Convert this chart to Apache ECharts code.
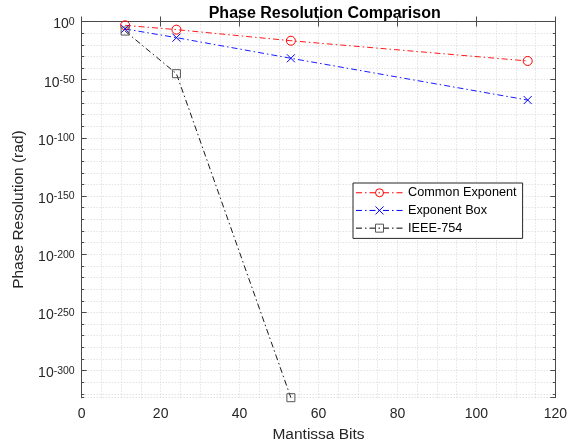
<!DOCTYPE html>
<html>
<head>
<meta charset="utf-8">
<script src="https://cdn.jsdelivr.net/npm/echarts@6/dist/echarts.min.js"></script>
<style>
html,body{margin:0;padding:0;background:#fff;}
#chart{width:570px;height:448px;}
</style>
</head>
<body>
<div id="chart"></div>
<script>
// ---- data ----
const mantissaBits = [11, 24, 53, 113];
const commonExponent = [5.0e-4, 1.0e-7, 3.0e-17, 1.2e-34];
const exponentBox = [4.0e-7, 1.3e-14, 2.5e-32, 3.0e-68];
const ieeeBits = [11, 24, 53];
const ieee754 = [6.0e-9, 1.4e-45, 4.9e-324];
const xTicks = [0, 20, 40, 60, 80, 100, 120];
const yTickExponents = [0, -50, -100, -150, -200, -250, -300];
const seriesNames = ['Common Exponent', 'Exponent Box', 'IEEE-754'];

// plotted as decades below 1 (axis inverted so 10^0 is on top)
const dec = v => -Math.log10(v);
const pairs = (xs, ys) => xs.map((x, i) => [x, dec(ys[i])]);
const yBottom = Math.max(...[...commonExponent, ...exponentBox, ...ieee754].map(dec));

const AX = '#4a4a4a';
const GRID = '#d4d4d4';
const FONT = '"Liberation Sans", Arial, Helvetica, sans-serif';
const dashDot = [6, 3, 1.5, 3];

function yLabel(v) {
  const e = yTickExponents.find(t => Math.abs(-t - v) < 1e-6);
  if (e === undefined) return '';
  return '{b|10}{s|' + e + '}';
}

const baseY = {
  type: 'value', inverse: true, min: 0, max: yBottom,
  axisLine: { show: false }, splitLine: { show: false },
  axisLabel: { show: false }, axisTick: { show: false }
};

const option = {
  backgroundColor: '#ffffff',
  animation: false,
  textStyle: { fontFamily: FONT },
  title: {
    text: 'Phase Resolution Comparison',
    left: 319.7, top: 1, textAlign: 'center',
    textStyle: { fontFamily: FONT, fontSize: 16, fontWeight: 'bold', color: '#000' }
  },
  grid: { left: 81.7, right: 12.3, top: 21.5, bottom: 50.3, containLabel: false },
  legend: {
    orient: 'vertical', left: 353, top: 183,
    data: seriesNames,
    itemWidth: 47, itemHeight: 10, itemGap: 3.2,
    padding: [2.5, 6, 3, 2.5],
    backgroundColor: '#fff', borderColor: '#262626', borderWidth: 1,
    lineStyle: { width: 1 },
    itemStyle: { borderWidth: 1 },
    textStyle: { fontFamily: FONT, fontSize: 12.7, color: '#000', lineHeight: 14.5 }
  },
  xAxis: [
    {
      type: 'value', position: 'bottom', min: 0, max: 120, interval: 20,
      name: 'Mantissa Bits', nameLocation: 'middle', nameGap: 29,
      nameTextStyle: { fontFamily: FONT, fontSize: 15.5, color: '#262626' },
      axisLine: { show: true, lineStyle: { color: AX, width: 1 } },
      axisTick: { show: true, inside: true, length: 5, lineStyle: { color: AX } },
      axisLabel: { show: true, margin: 9, fontFamily: FONT, fontSize: 14, color: '#262626',
        formatter: v => (xTicks.includes(v) ? String(v) : '') },
      splitLine: { show: true, lineStyle: { color: GRID, type: [1, 2], width: 1 } },
      minorTick: { show: false, splitNumber: 4 },
      minorSplitLine: { show: true, lineStyle: { color: GRID, type: [1, 2], width: 1 } }
    },
    {
      type: 'value', position: 'top', min: 0, max: 120, interval: 20,
      axisLine: { show: true, lineStyle: { color: AX, width: 1 } },
      axisTick: { show: true, inside: true, length: 5, lineStyle: { color: AX } },
      axisLabel: { show: false }, splitLine: { show: false }
    }
  ],
  yAxis: [
    Object.assign({}, baseY, {
      position: 'left', interval: 50,
      name: 'Phase Resolution (rad)', nameLocation: 'middle', nameGap: 53,
      nameTextStyle: { fontFamily: FONT, fontSize: 15.5, color: '#262626' },
      axisLine: { show: true, lineStyle: { color: AX, width: 1 } },
      axisTick: { show: true, inside: true, length: 5, lineStyle: { color: AX } },
      axisLabel: {
        show: true, margin: 7, showMaxLabel: false, formatter: yLabel,
        fontFamily: FONT, fontSize: 14, color: '#262626',
        rich: {
          b: { fontFamily: FONT, fontSize: 14, lineHeight: 14, color: '#262626', padding: [6, 0, 0, 0] },
          s: { fontFamily: FONT, fontSize: 10.5, lineHeight: 11, color: '#262626', verticalAlign: 'top', padding: [2, 0, 0, 0] }
        }
      }
    }),
    Object.assign({}, baseY, {
      position: 'left', interval: 10,
      axisTick: { show: true, inside: true, length: 2.5, lineStyle: { color: AX } },
      splitLine: { show: true, lineStyle: { color: GRID, type: [1, 2], width: 1 } }
    }),
    Object.assign({}, baseY, {
      position: 'right', interval: 50,
      axisLine: { show: true, lineStyle: { color: AX, width: 1 } },
      axisTick: { show: true, inside: true, length: 5, lineStyle: { color: AX } }
    }),
    Object.assign({}, baseY, {
      position: 'right', interval: 10,
      axisTick: { show: true, inside: true, length: 2.5, lineStyle: { color: AX } }
    })
  ],
  series: [
    {
      name: seriesNames[0], type: 'line', xAxisIndex: 0, yAxisIndex: 0,
      data: pairs(mantissaBits, commonExponent), clip: false,
      symbol: 'circle', symbolSize: 9,
      lineStyle: { color: '#ff0000', width: 0.9, type: dashDot },
      itemStyle: { color: 'rgba(255,255,255,0)', borderColor: '#ff0000', borderWidth: 1 },
      emphasis: { disabled: true }
    },
    {
      name: seriesNames[1], type: 'line', xAxisIndex: 0, yAxisIndex: 0,
      data: pairs(mantissaBits, exponentBox), clip: false,
      symbol: 'path://M0,0L10,10M10,0L0,10', symbolSize: 8,
      lineStyle: { color: '#0000ff', width: 0.9, type: dashDot },
      itemStyle: { color: 'rgba(0,0,255,0)', borderColor: '#0000ff', borderWidth: 1 },
      emphasis: { disabled: true }
    },
    {
      name: seriesNames[2], type: 'line', xAxisIndex: 0, yAxisIndex: 0,
      data: pairs(ieeeBits, ieee754), clip: false,
      symbol: 'rect', symbolSize: 8,
      lineStyle: { color: '#000000', width: 0.9, type: dashDot },
      itemStyle: { color: 'rgba(0,0,0,0)', borderColor: '#555555', borderWidth: 1 },
      emphasis: { disabled: true }
    }
  ]
};

const chart = echarts.init(document.getElementById('chart'), null, { renderer: 'canvas' });
chart.setOption(option);
</script>
</body>
</html>
